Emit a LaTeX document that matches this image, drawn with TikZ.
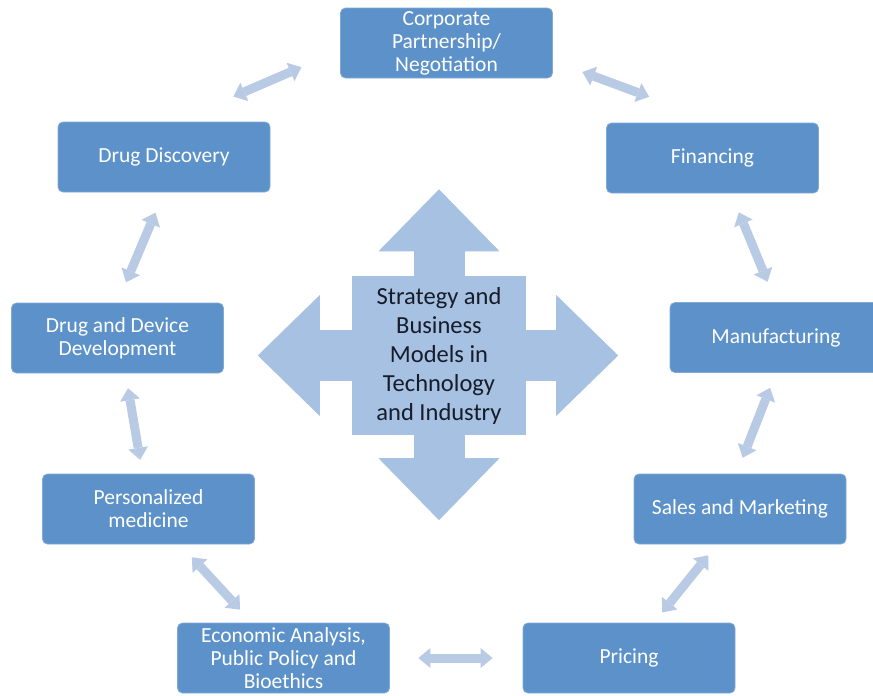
\documentclass[tikz,border=0pt]{standalone}
\usepackage{fontspec}
\setmainfont{Carlito}
\usepackage{tikz}
\usetikzlibrary{arrows.meta, positioning, calc}
\definecolor{stagefill}{RGB}{92, 146, 201}
\definecolor{stageedge}{RGB}{128, 170, 214}
\definecolor{hubfill}{RGB}{166, 193, 225}
\definecolor{linkblue}{RGB}{184, 202, 228}
\definecolor{hubtext}{RGB}{22, 28, 42}

\tikzset{
  stage/.style={rectangle, rounded corners=5pt, fill=stagefill, draw=stageedge, line width=0.8pt,
    minimum width=212pt, minimum height=70pt, inner sep=2pt, align=center, text=white,
    font=\fontsize{21.5}{23}\selectfont},
  hub/.style={rectangle, fill=hubfill, minimum width=174pt, minimum height=159pt, inner sep=2pt,
    align=center, text=hubtext, font=\fontsize{24.5}{29}\selectfont},
  hubarrow/.style={draw=hubfill, line width=51pt,
    -{Triangle[width=121pt, length=62pt, line width=0pt]}},
  link/.style={draw=linkblue, line width=9pt,
    >={Triangle[width=20pt, length=12pt, line width=0pt]}, <->},
}

\begin{document}
\begin{tikzpicture}[x=1pt, y=-1pt]
  \clip (0,0) rectangle (873,696);

  % the hub and its four arrows
  \node[hub] (core) at (439,355.5) {Strategy and\\Business\\Models in\\Technology\\and Industry};
  \draw[hubarrow] (core.north) -- ++(0,-86.5);
  \draw[hubarrow] (core.south) -- ++(0,85);
  \draw[hubarrow] (core.west) -- ++(-94,0);
  \draw[hubarrow] (core.east) -- ++(92,0);

  % stages round the ring
  \node[stage] (corp) at (446.5,43) {Corporate\\Partnership/\\Negotiation};
  \node[stage] (fin) at (712.5,158) {Financing};
  \node[stage] (manuf) at (776,337.5) {Manufacturing};
  \node[stage] (sales) at (740,509) {Sales and Marketing};
  \node[stage] (price) at (629,658) {Pricing};
  \node[stage] (econ) at (283.5,658) {Economic Analysis,\\Public Policy and\\Bioethics};
  \node[stage] (pers) at (148.5,509) {Personalized\\medicine};
  \node[stage] (devel) at (117.5,338) {Drug and Device\\Development};
  \node[stage] (disc) at (164,157) {Drug Discovery};

  % two-way links between neighbours
  \draw[link, shorten <=42pt, shorten >=63pt] ([yshift=-7.5pt]corp.west) -- ([xshift=11.5pt]disc.north);
  \draw[link, shorten <=31.5pt, shorten >=74pt] ([yshift=-18pt]corp.east) -- ([xshift=6pt]fin.north);
  \draw[link, shorten <=22pt, shorten >=22pt] (disc.south) -- (devel.north);
  \draw[link, shorten <=20.5pt, shorten >=22pt] ([xshift=18.5pt]fin.south) -- (manuf.north);
  \draw[link, shorten <=15pt, shorten >=14pt] ([xshift=8pt]devel.south) -- ([xshift=-6pt]pers.north);
  \draw[link, shorten <=17.5pt, shorten >=17.5pt] ([xshift=31.5pt]pers.south) -- ([xshift=-31.5pt]econ.north);
  \draw[link, shorten <=28.5pt, shorten >=30pt] (econ.east) -- (price.west);
  \draw[link, shorten <=13pt, shorten >=14pt] ([xshift=25pt]price.north) -- ([xshift=-23pt]sales.south);
  \draw[link, shorten <=17pt, shorten >=16pt] ([xshift=-3.5pt]sales.north) -- (manuf.south);
\end{tikzpicture}
\end{document}
